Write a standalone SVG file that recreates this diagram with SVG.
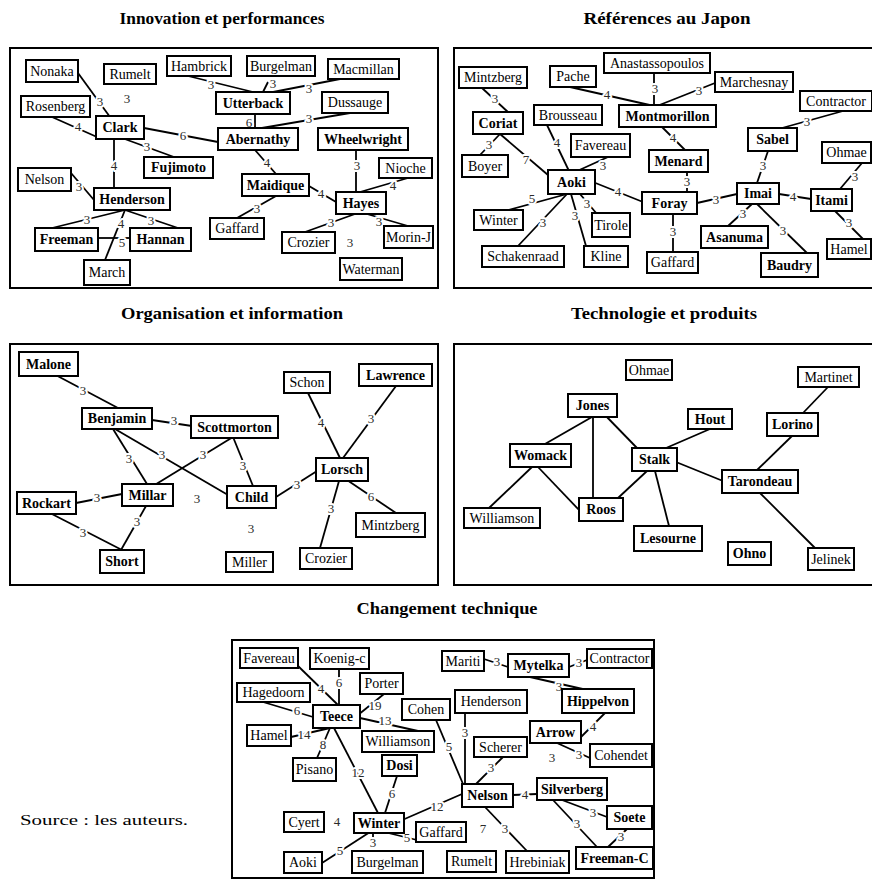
<svg xmlns="http://www.w3.org/2000/svg" xmlns:xlink="http://www.w3.org/1999/xlink" width="872" height="880" viewBox="0 0 872 880">
<style>
.bg{fill:#fff}
.panel{fill:none;stroke:#000;stroke-width:2}
.t{font-family:"Liberation Serif","Times New Roman",serif;font-weight:bold;font-size:16.5px;text-anchor:middle;fill:#000}
.src{font-family:"Liberation Serif","Times New Roman",serif;font-size:15px;fill:#000}
.box{fill:#fff;stroke:#000;stroke-width:2}
.n{font-family:"Liberation Serif","Times New Roman",serif;font-size:14px;text-anchor:middle;fill:#000}
.b{font-weight:bold}
.e line{stroke:#000;stroke-width:1.8}
.lt text{font-family:"Liberation Serif","Times New Roman",serif;font-size:13px;text-anchor:middle}
.halo{fill:#fff;stroke:#fff;stroke-width:4;stroke-linejoin:round}
.ink{fill:#2a2a2a}
.f{font-family:"Liberation Serif","Times New Roman",serif;font-size:13px;text-anchor:middle;fill:#2a2a2a}
</style>
<defs>
<g id="lbl" class="lt">
<text x="100" y="106">3</text>
<text x="78" y="131">4</text>
<text x="183" y="140">6</text>
<text x="147" y="151">3</text>
<text x="114" y="170">4</text>
<text x="79" y="191">3</text>
<text x="87" y="224">3</text>
<text x="151" y="225">3</text>
<text x="121" y="228">4</text>
<text x="122" y="247">5</text>
<text x="211" y="89">3</text>
<text x="273" y="88">3</text>
<text x="309" y="93">3</text>
<text x="249" y="127">6</text>
<text x="309" y="123">3</text>
<text x="267" y="167">4</text>
<text x="257" y="213">3</text>
<text x="321" y="198">4</text>
<text x="357" y="170">3</text>
<text x="393" y="190">4</text>
<text x="331" y="227">3</text>
<text x="379" y="226">3</text>
<text x="495" y="103">3</text>
<text x="489" y="149">3</text>
<text x="526" y="164">7</text>
<text x="557" y="147">4</text>
<text x="603" y="170">3</text>
<text x="618" y="196">4</text>
<text x="532" y="203">5</text>
<text x="543" y="227">3</text>
<text x="587" y="208">3</text>
<text x="575" y="220">3</text>
<text x="607" y="99">4</text>
<text x="655" y="93">3</text>
<text x="699" y="95">3</text>
<text x="673" y="142">4</text>
<text x="687" y="186">3</text>
<text x="673" y="236">3</text>
<text x="716" y="204">3</text>
<text x="807" y="126">3</text>
<text x="763" y="170">3</text>
<text x="793" y="201">4</text>
<text x="855" y="181">3</text>
<text x="849" y="227">3</text>
<text x="743" y="218">3</text>
<text x="783" y="235">3</text>
<text x="83" y="395">3</text>
<text x="174" y="425">3</text>
<text x="129" y="463">3</text>
<text x="162" y="459">3</text>
<text x="203" y="459">3</text>
<text x="243" y="470">3</text>
<text x="97" y="502">3</text>
<text x="137" y="526">3</text>
<text x="83" y="537">3</text>
<text x="297" y="489">3</text>
<text x="321" y="427">4</text>
<text x="371" y="423">3</text>
<text x="371" y="501">6</text>
<text x="331" y="513">3</text>
<text x="321" y="693">4</text>
<text x="339" y="687">6</text>
<text x="375" y="710">19</text>
<text x="297" y="715">6</text>
<text x="385" y="725">13</text>
<text x="304" y="739">14</text>
<text x="323" y="749">8</text>
<text x="358" y="777">12</text>
<text x="392" y="798">6</text>
<text x="437" y="811">12</text>
<text x="407" y="842">5</text>
<text x="340" y="855">5</text>
<text x="373" y="847">3</text>
<text x="449" y="751">5</text>
<text x="465" y="737">3</text>
<text x="491" y="772">3</text>
<text x="525" y="799">4</text>
<text x="505" y="833">3</text>
<text x="593" y="817">3</text>
<text x="577" y="828">3</text>
<text x="621" y="841">3</text>
<text x="497" y="666">3</text>
<text x="579" y="667">3</text>
<text x="559" y="691">3</text>
<text x="593" y="731">4</text>
<text x="579" y="759">3</text>
</g>
</defs>
<rect class="bg" x="0" y="0" width="872" height="880"/>
<g id="titles">
<text class="t" x="222" y="24" textLength="205" lengthAdjust="spacingAndGlyphs">Innovation et performances</text>
<text class="t" x="667" y="24" textLength="167" lengthAdjust="spacingAndGlyphs">Références au Japon</text>
<text class="t" x="232" y="319" textLength="222" lengthAdjust="spacingAndGlyphs">Organisation et information</text>
<text class="t" x="664" y="319" textLength="186" lengthAdjust="spacingAndGlyphs">Technologie et produits</text>
<text class="t" x="447" y="614" textLength="181" lengthAdjust="spacingAndGlyphs">Changement technique</text>
<text class="src" x="20" y="825" textLength="168" lengthAdjust="spacingAndGlyphs">Source : les auteurs.</text>
</g>
<g id="panels">
<rect class="panel" x="10" y="48" width="428" height="240"/>
<rect class="panel" x="454" y="48" width="430" height="240"/>
<rect class="panel" x="10" y="344" width="428" height="241"/>
<rect class="panel" x="454" y="344" width="430" height="241"/>
<rect class="panel" x="232" y="640" width="422" height="238"/>
</g>
<g id="connectors" class="e">
<line x1="78" y1="73" x2="110" y2="117"/>
<line x1="52" y1="117" x2="97" y2="137"/>
<line x1="144" y1="128" x2="218" y2="142"/>
<line x1="122" y1="138" x2="174" y2="157"/>
<line x1="114" y1="139" x2="114" y2="188"/>
<line x1="71" y1="173" x2="94" y2="200"/>
<line x1="125" y1="210" x2="52" y2="228"/>
<line x1="125" y1="210" x2="178" y2="228"/>
<line x1="125" y1="210" x2="105" y2="260"/>
<line x1="98" y1="238" x2="130" y2="238"/>
<line x1="188" y1="76" x2="253" y2="92"/>
<line x1="263" y1="92" x2="268" y2="82"/>
<line x1="340" y1="79" x2="268" y2="93"/>
<line x1="255" y1="114" x2="255" y2="128"/>
<line x1="350" y1="113" x2="256" y2="129"/>
<line x1="255" y1="150" x2="276" y2="174"/>
<line x1="276" y1="196" x2="237" y2="218"/>
<line x1="309" y1="186" x2="336" y2="202"/>
<line x1="356" y1="150" x2="356" y2="192"/>
<line x1="408" y1="178" x2="360" y2="192"/>
<line x1="355" y1="214" x2="305" y2="232"/>
<line x1="367" y1="214" x2="408" y2="226"/>
<line x1="482" y1="88" x2="509" y2="113"/>
<line x1="500" y1="134" x2="480" y2="155"/>
<line x1="500" y1="134" x2="548" y2="175"/>
<line x1="547" y1="125" x2="569" y2="171"/>
<line x1="608" y1="157" x2="575" y2="172"/>
<line x1="593" y1="182" x2="643" y2="202"/>
<line x1="567" y1="194" x2="505" y2="211"/>
<line x1="567" y1="194" x2="518" y2="246"/>
<line x1="580" y1="194" x2="597" y2="214"/>
<line x1="571" y1="194" x2="586" y2="246"/>
<line x1="570" y1="87" x2="654" y2="106"/>
<line x1="654" y1="73" x2="654" y2="106"/>
<line x1="715" y1="83" x2="657" y2="106"/>
<line x1="662" y1="127" x2="685" y2="150"/>
<line x1="687" y1="172" x2="687" y2="192"/>
<line x1="673" y1="214" x2="673" y2="252"/>
<line x1="697" y1="203" x2="737" y2="194"/>
<line x1="843" y1="111" x2="782" y2="128"/>
<line x1="768" y1="151" x2="757" y2="183"/>
<line x1="779" y1="194" x2="811" y2="199"/>
<line x1="862" y1="163" x2="840" y2="189"/>
<line x1="835" y1="211" x2="863" y2="239"/>
<line x1="752" y1="204" x2="728" y2="226"/>
<line x1="757" y1="204" x2="807" y2="253"/>
<line x1="50" y1="372" x2="118" y2="408"/>
<line x1="152" y1="420" x2="192" y2="426"/>
<line x1="113" y1="429" x2="147" y2="484"/>
<line x1="115" y1="429" x2="228" y2="495"/>
<line x1="233" y1="437" x2="153" y2="486"/>
<line x1="233" y1="437" x2="253" y2="486"/>
<line x1="122" y1="494" x2="76" y2="503"/>
<line x1="146" y1="506" x2="121" y2="550"/>
<line x1="48" y1="512" x2="122" y2="550"/>
<line x1="276" y1="497" x2="317" y2="471"/>
<line x1="308" y1="393" x2="340" y2="458"/>
<line x1="396" y1="386" x2="343" y2="458"/>
<line x1="347" y1="480" x2="396" y2="513"/>
<line x1="339" y1="481" x2="320" y2="548"/>
<line x1="592" y1="417" x2="538" y2="448"/>
<line x1="593" y1="417" x2="593" y2="498"/>
<line x1="603" y1="413" x2="637" y2="448"/>
<line x1="532" y1="467" x2="489" y2="508"/>
<line x1="538" y1="467" x2="580" y2="511"/>
<line x1="647" y1="471" x2="618" y2="498"/>
<line x1="655" y1="471" x2="669" y2="526"/>
<line x1="666" y1="448" x2="710" y2="429"/>
<line x1="676" y1="462" x2="723" y2="481"/>
<line x1="792" y1="436" x2="755" y2="472"/>
<line x1="828" y1="387" x2="803" y2="413"/>
<line x1="760" y1="493" x2="815" y2="548"/>
<line x1="297" y1="665" x2="338" y2="705"/>
<line x1="339" y1="669" x2="339" y2="705"/>
<line x1="384" y1="694" x2="358" y2="715"/>
<line x1="263" y1="702" x2="313" y2="717"/>
<line x1="360" y1="718" x2="418" y2="731"/>
<line x1="330" y1="728" x2="291" y2="737"/>
<line x1="330" y1="728" x2="317" y2="758"/>
<line x1="334" y1="728" x2="378" y2="813"/>
<line x1="397" y1="776" x2="385" y2="813"/>
<line x1="400" y1="821" x2="462" y2="794"/>
<line x1="380" y1="831" x2="417" y2="840"/>
<line x1="370" y1="832" x2="322" y2="863"/>
<line x1="373" y1="833" x2="373" y2="838"/>
<line x1="436" y1="720" x2="463" y2="784"/>
<line x1="465" y1="713" x2="465" y2="784"/>
<line x1="503" y1="757" x2="475" y2="785"/>
<line x1="513" y1="795" x2="537" y2="794"/>
<line x1="485" y1="807" x2="527" y2="851"/>
<line x1="562" y1="800" x2="607" y2="817"/>
<line x1="553" y1="800" x2="597" y2="847"/>
<line x1="627" y1="829" x2="608" y2="847"/>
<line x1="484" y1="659" x2="508" y2="667"/>
<line x1="569" y1="667" x2="587" y2="660"/>
<line x1="530" y1="677" x2="587" y2="690"/>
<line x1="605" y1="713" x2="581" y2="737"/>
<line x1="557" y1="743" x2="590" y2="758"/>
<use xlink:href="#lbl" href="#lbl" class="halo"/>
<use xlink:href="#lbl" href="#lbl" class="ink"/>
<g id="free-labels">
<text class="f" x="127" y="103">3</text>
<text class="f" x="350" y="247">3</text>
<text class="f" x="197" y="503">3</text>
<text class="f" x="251" y="533">3</text>
<text class="f" x="552" y="762">3</text>
<text class="f" x="483" y="833">7</text>
<text class="f" x="337" y="826">4</text>
</g>
</g>
<g id="p1-nonaka"><rect class="box" x="26" y="60" width="52" height="22"/><text class="n" x="52" y="76">Nonaka</text></g>
<g id="p1-rumelt"><rect class="box" x="104" y="64" width="52" height="20"/><text class="n" x="130" y="79">Rumelt</text></g>
<g id="p1-rosenberg"><rect class="box" x="21" y="96" width="69" height="21"/><text class="n" x="55.5" y="111">Rosenberg</text></g>
<g id="p1-clark"><rect class="box" x="96" y="116" width="48" height="23"/><text class="n b" x="120" y="132">Clark</text></g>
<g id="p1-fujimoto"><rect class="box" x="144" y="157" width="69" height="21"/><text class="n b" x="178.5" y="172">Fujimoto</text></g>
<g id="p1-nelson"><rect class="box" x="18" y="168" width="53" height="23"/><text class="n" x="44.5" y="184">Nelson</text></g>
<g id="p1-henderson"><rect class="box" x="94" y="188" width="76" height="22"/><text class="n b" x="132" y="204">Henderson</text></g>
<g id="p1-freeman"><rect class="box" x="35" y="228" width="63" height="23"/><text class="n b" x="66.5" y="244">Freeman</text></g>
<g id="p1-hannan"><rect class="box" x="130" y="228" width="61" height="23"/><text class="n b" x="160.5" y="244">Hannan</text></g>
<g id="p1-march"><rect class="box" x="84" y="260" width="46" height="25"/><text class="n" x="107" y="277">March</text></g>
<g id="p1-hambrick"><rect class="box" x="167" y="56" width="64" height="20"/><text class="n" x="199" y="71">Hambrick</text></g>
<g id="p1-utterback"><rect class="box" x="216" y="92" width="74" height="22"/><text class="n b" x="253" y="108">Utterback</text></g>
<g id="p1-abernathy"><rect class="box" x="218" y="128" width="80" height="22"/><text class="n b" x="258" y="144">Abernathy</text></g>
<g id="p1-maidique"><rect class="box" x="242" y="174" width="67" height="22"/><text class="n b" x="275.5" y="190">Maidique</text></g>
<g id="p1-gaffard"><rect class="box" x="210" y="218" width="54" height="21"/><text class="n" x="237" y="233">Gaffard</text></g>
<g id="p1-burgelman"><rect class="box" x="247" y="56" width="68" height="20"/><text class="n" x="281" y="71">Burgelman</text></g>
<g id="p1-macmillan"><rect class="box" x="328" y="59" width="71" height="20"/><text class="n" x="363.5" y="74">Macmillan</text></g>
<g id="p1-dussauge"><rect class="box" x="322" y="92" width="66" height="21"/><text class="n" x="355" y="107">Dussauge</text></g>
<g id="p1-wheelwright"><rect class="box" x="318" y="128" width="90" height="22"/><text class="n b" x="363" y="144">Wheelwright</text></g>
<g id="p1-nioche"><rect class="box" x="379" y="158" width="53" height="20"/><text class="n" x="405.5" y="173">Nioche</text></g>
<g id="p1-hayes"><rect class="box" x="336" y="192" width="50" height="22"/><text class="n b" x="361" y="208">Hayes</text></g>
<g id="p1-crozier"><rect class="box" x="282" y="232" width="53" height="21"/><text class="n" x="308.5" y="247">Crozier</text></g>
<g id="p1-morin-j"><rect class="box" x="384" y="226" width="49" height="22"/><text class="n" x="408.5" y="242">Morin-J</text></g>
<g id="p1-waterman"><rect class="box" x="340" y="258" width="62" height="22"/><text class="n" x="371" y="274">Waterman</text></g>
<g id="p2-mintzberg"><rect class="box" x="459" y="67" width="68" height="21"/><text class="n" x="493" y="82">Mintzberg</text></g>
<g id="p2-pache"><rect class="box" x="550" y="66" width="46" height="21"/><text class="n" x="573" y="81">Pache</text></g>
<g id="p2-anastassopoulos"><rect class="box" x="604" y="53" width="106" height="20"/><text class="n" x="657" y="68">Anastassopoulos</text></g>
<g id="p2-marchesnay"><rect class="box" x="715" y="72" width="78" height="20"/><text class="n" x="754" y="87">Marchesnay</text></g>
<g id="p2-contractor"><rect class="box" x="800" y="91" width="72" height="20"/><text class="n" x="836" y="106">Contractor</text></g>
<g id="p2-coriat"><rect class="box" x="473" y="112" width="50" height="22"/><text class="n b" x="498" y="128">Coriat</text></g>
<g id="p2-montmorillon"><rect class="box" x="619" y="105" width="97" height="22"/><text class="n b" x="667.5" y="121">Montmorillon</text></g>
<g id="p2-brousseau"><rect class="box" x="534" y="105" width="68" height="20"/><text class="n" x="568" y="120">Brousseau</text></g>
<g id="p2-boyer"><rect class="box" x="462" y="155" width="46" height="22"/><text class="n" x="485" y="171">Boyer</text></g>
<g id="p2-favereau"><rect class="box" x="571" y="134" width="59" height="23"/><text class="n" x="600.5" y="150">Favereau</text></g>
<g id="p2-menard"><rect class="box" x="649" y="150" width="59" height="22"/><text class="n b" x="678.5" y="166">Menard</text></g>
<g id="p2-aoki"><rect class="box" x="548" y="170" width="47" height="24"/><text class="n b" x="571.5" y="187">Aoki</text></g>
<g id="p2-foray"><rect class="box" x="642" y="192" width="55" height="22"/><text class="n b" x="669.5" y="208">Foray</text></g>
<g id="p2-sabel"><rect class="box" x="748" y="128" width="49" height="23"/><text class="n b" x="772.5" y="144">Sabel</text></g>
<g id="p2-ohmae"><rect class="box" x="822" y="142" width="49" height="21"/><text class="n" x="846.5" y="157">Ohmae</text></g>
<g id="p2-imai"><rect class="box" x="737" y="183" width="42" height="21"/><text class="n b" x="758" y="198">Imai</text></g>
<g id="p2-itami"><rect class="box" x="811" y="189" width="41" height="22"/><text class="n b" x="831.5" y="205">Itami</text></g>
<g id="p2-asanuma"><rect class="box" x="701" y="226" width="67" height="22"/><text class="n b" x="734.5" y="242">Asanuma</text></g>
<g id="p2-baudry"><rect class="box" x="761" y="253" width="57" height="24"/><text class="n b" x="789.5" y="270">Baudry</text></g>
<g id="p2-hamel"><rect class="box" x="827" y="239" width="44" height="20"/><text class="n" x="849" y="254">Hamel</text></g>
<g id="p2-winter"><rect class="box" x="474" y="210" width="49" height="20"/><text class="n" x="498.5" y="225">Winter</text></g>
<g id="p2-tirole"><rect class="box" x="592" y="213" width="38" height="24"/><text class="n" x="611" y="230">Tirole</text></g>
<g id="p2-schakenraad"><rect class="box" x="482" y="246" width="82" height="21"/><text class="n" x="523" y="261">Schakenraad</text></g>
<g id="p2-kline"><rect class="box" x="584" y="246" width="44" height="21"/><text class="n" x="606" y="261">Kline</text></g>
<g id="p2-gaffard"><rect class="box" x="647" y="252" width="51" height="21"/><text class="n" x="672.5" y="267">Gaffard</text></g>
<g id="p3-malone"><rect class="box" x="19" y="352" width="59" height="24"/><text class="n b" x="48.5" y="369">Malone</text></g>
<g id="p3-benjamin"><rect class="box" x="82" y="408" width="70" height="21"/><text class="n b" x="117" y="423">Benjamin</text></g>
<g id="p3-scottmorton"><rect class="box" x="191" y="416" width="87" height="22"/><text class="n b" x="234.5" y="432">Scottmorton</text></g>
<g id="p3-millar"><rect class="box" x="122" y="484" width="51" height="22"/><text class="n b" x="147.5" y="500">Millar</text></g>
<g id="p3-rockart"><rect class="box" x="17" y="492" width="59" height="22"/><text class="n b" x="46.5" y="508">Rockart</text></g>
<g id="p3-short"><rect class="box" x="100" y="550" width="44" height="23"/><text class="n b" x="122" y="566">Short</text></g>
<g id="p3-child"><rect class="box" x="227" y="486" width="49" height="22"/><text class="n b" x="251.5" y="502">Child</text></g>
<g id="p3-miller"><rect class="box" x="226" y="552" width="47" height="20"/><text class="n" x="249.5" y="567">Miller</text></g>
<g id="p3-schon"><rect class="box" x="284" y="372" width="46" height="21"/><text class="n" x="307" y="387">Schon</text></g>
<g id="p3-lawrence"><rect class="box" x="359" y="364" width="73" height="22"/><text class="n b" x="395.5" y="380">Lawrence</text></g>
<g id="p3-lorsch"><rect class="box" x="316" y="458" width="52" height="23"/><text class="n b" x="342" y="474">Lorsch</text></g>
<g id="p3-mintzberg"><rect class="box" x="356" y="513" width="69" height="24"/><text class="n" x="390.5" y="530">Mintzberg</text></g>
<g id="p3-crozier"><rect class="box" x="300" y="548" width="52" height="21"/><text class="n" x="326" y="563">Crozier</text></g>
<g id="p4-ohmae"><rect class="box" x="626" y="360" width="46" height="20"/><text class="n" x="649" y="375">Ohmae</text></g>
<g id="p4-jones"><rect class="box" x="568" y="394" width="49" height="23"/><text class="n b" x="592.5" y="410">Jones</text></g>
<g id="p4-womack"><rect class="box" x="510" y="444" width="61" height="23"/><text class="n b" x="540.5" y="460">Womack</text></g>
<g id="p4-stalk"><rect class="box" x="632" y="448" width="45" height="23"/><text class="n b" x="654.5" y="464">Stalk</text></g>
<g id="p4-roos"><rect class="box" x="579" y="498" width="44" height="23"/><text class="n b" x="601" y="514">Roos</text></g>
<g id="p4-williamson"><rect class="box" x="464" y="508" width="76" height="20"/><text class="n" x="502" y="523">Williamson</text></g>
<g id="p4-lesourne"><rect class="box" x="634" y="526" width="68" height="25"/><text class="n b" x="668" y="543">Lesourne</text></g>
<g id="p4-hout"><rect class="box" x="688" y="409" width="44" height="20"/><text class="n b" x="710" y="424">Hout</text></g>
<g id="p4-martinet"><rect class="box" x="798" y="367" width="61" height="20"/><text class="n" x="828.5" y="382">Martinet</text></g>
<g id="p4-lorino"><rect class="box" x="767" y="413" width="51" height="23"/><text class="n b" x="792.5" y="429">Lorino</text></g>
<g id="p4-tarondeau"><rect class="box" x="722" y="470" width="76" height="23"/><text class="n b" x="760" y="486">Tarondeau</text></g>
<g id="p4-ohno"><rect class="box" x="728" y="542" width="43" height="23"/><text class="n b" x="749.5" y="558">Ohno</text></g>
<g id="p4-jelinek"><rect class="box" x="808" y="548" width="46" height="22"/><text class="n" x="831" y="564">Jelinek</text></g>
<g id="p5-favereau"><rect class="box" x="240" y="648" width="58" height="20"/><text class="n" x="269" y="663">Favereau</text></g>
<g id="p5-koenig-c"><rect class="box" x="310" y="648" width="59" height="21"/><text class="n" x="339.5" y="663">Koenig-c</text></g>
<g id="p5-porter"><rect class="box" x="360" y="673" width="43" height="21"/><text class="n" x="381.5" y="688">Porter</text></g>
<g id="p5-hagedoorn"><rect class="box" x="237" y="683" width="73" height="19"/><text class="n" x="273.5" y="697">Hagedoorn</text></g>
<g id="p5-teece"><rect class="box" x="313" y="705" width="47" height="23"/><text class="n b" x="336.5" y="721">Teece</text></g>
<g id="p5-cohen"><rect class="box" x="402" y="699" width="48" height="21"/><text class="n" x="426" y="714">Cohen</text></g>
<g id="p5-hamel"><rect class="box" x="247" y="725" width="44" height="21"/><text class="n" x="269" y="740">Hamel</text></g>
<g id="p5-williamson"><rect class="box" x="362" y="731" width="72" height="21"/><text class="n" x="398" y="746">Williamson</text></g>
<g id="p5-pisano"><rect class="box" x="293" y="758" width="43" height="23"/><text class="n" x="314.5" y="774">Pisano</text></g>
<g id="p5-dosi"><rect class="box" x="382" y="755" width="35" height="21"/><text class="n b" x="399.5" y="770">Dosi</text></g>
<g id="p5-cyert"><rect class="box" x="284" y="812" width="40" height="20"/><text class="n" x="304" y="827">Cyert</text></g>
<g id="p5-winter"><rect class="box" x="354" y="813" width="50" height="20"/><text class="n b" x="379" y="828">Winter</text></g>
<g id="p5-gaffard"><rect class="box" x="416" y="822" width="50" height="20"/><text class="n" x="441" y="837">Gaffard</text></g>
<g id="p5-aoki"><rect class="box" x="284" y="852" width="38" height="21"/><text class="n" x="303" y="867">Aoki</text></g>
<g id="p5-burgelman"><rect class="box" x="352" y="851" width="71" height="22"/><text class="n" x="387.5" y="867">Burgelman</text></g>
<g id="p5-rumelt"><rect class="box" x="447" y="851" width="49" height="21"/><text class="n" x="471.5" y="866">Rumelt</text></g>
<g id="p5-hrebiniak"><rect class="box" x="506" y="851" width="63" height="22"/><text class="n" x="537.5" y="867">Hrebiniak</text></g>
<g id="p5-freeman-c"><rect class="box" x="576" y="847" width="77" height="22"/><text class="n b" x="614.5" y="863">Freeman-C</text></g>
<g id="p5-mariti"><rect class="box" x="442" y="651" width="42" height="20"/><text class="n" x="463" y="666">Mariti</text></g>
<g id="p5-mytelka"><rect class="box" x="508" y="654" width="61" height="23"/><text class="n b" x="538.5" y="670">Mytelka</text></g>
<g id="p5-contractor"><rect class="box" x="587" y="649" width="65" height="19"/><text class="n" x="619.5" y="663">Contractor</text></g>
<g id="p5-henderson"><rect class="box" x="455" y="690" width="72" height="23"/><text class="n" x="491" y="706">Henderson</text></g>
<g id="p5-hippelvon"><rect class="box" x="562" y="689" width="72" height="24"/><text class="n b" x="598" y="706">Hippelvon</text></g>
<g id="p5-arrow"><rect class="box" x="530" y="721" width="51" height="22"/><text class="n b" x="555.5" y="737">Arrow</text></g>
<g id="p5-scherer"><rect class="box" x="474" y="737" width="53" height="20"/><text class="n" x="500.5" y="752">Scherer</text></g>
<g id="p5-cohendet"><rect class="box" x="590" y="744" width="62" height="23"/><text class="n" x="621" y="760">Cohendet</text></g>
<g id="p5-nelson"><rect class="box" x="462" y="784" width="51" height="23"/><text class="n b" x="487.5" y="800">Nelson</text></g>
<g id="p5-silverberg"><rect class="box" x="537" y="778" width="70" height="22"/><text class="n b" x="572" y="794">Silverberg</text></g>
<g id="p5-soete"><rect class="box" x="607" y="806" width="45" height="23"/><text class="n b" x="629.5" y="822">Soete</text></g>
</svg>
